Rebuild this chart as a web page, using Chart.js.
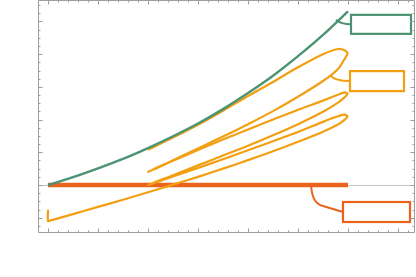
<!DOCTYPE html>
<html>
<head>
<meta charset="utf-8">
<script src="https://cdn.jsdelivr.net/npm/chart.js@4/dist/chart.umd.min.js"></script>
<style>
  body { margin: 0; background: #fff; }
  canvas { display: block; }
</style>
</head>
<body>
<canvas id="chart" width="416" height="277"></canvas>
<script>
// data
const greenX = [0, 0.5, 1, 1.5, 2, 2.5, 3, 3.5, 4, 4.5, 5, 5.5, 6];
const greenY = [0, 0.24, 0.51, 0.8, 1.13, 1.49, 1.88, 2.32, 2.81, 3.34, 3.94, 4.59, 5.31];

// orange curve, traced in drawing order (it folds back on itself)
const orangeX = [0, 0, 0.04,
  0.5, 1, 1.5, 2, 2.5, 3, 3.5, 4, 4.5, 5, 5.5, 5.8, 5.93, 5.99,
  5.93, 5.8, 5.5, 5, 4.5, 4, 3.5, 3, 2.5, 2,
  2.5, 3, 3.5, 4, 4.5, 5, 5.5, 5.8, 5.93, 5.99,
  5.93, 5.8, 5.5, 5, 4.5, 4, 3.5, 3, 2.5, 2,
  2.5, 3, 3.5, 4, 4.5, 5, 5.5, 5.8, 5.93, 5.99,
  5.93, 5.8, 5.5, 5, 4.5, 4, 3.5, 3, 2.5, 2];
const orangeY = [-0.76, -1.1, -1.09,
  -0.89, -0.67, -0.45, -0.22, 0.01, 0.25, 0.5, 0.76, 1.03, 1.32, 1.63, 1.85, 1.99, 2.1,
  2.15, 2.1, 1.93, 1.62, 1.34, 1.06, 0.79, 0.52, 0.26, 0,
  0.3, 0.6, 0.9, 1.2, 1.52, 1.86, 2.24, 2.52, 2.68, 2.79,
  2.83, 2.76, 2.58, 2.3, 2.0, 1.7, 1.39, 1.07, 0.74, 0.4,
  0.76, 1.12, 1.48, 1.86, 2.26, 2.7, 3.18, 3.55, 3.85, 4.02,
  4.12, 4.16, 4.0, 3.6, 3.15, 2.72, 2.27, 1.84, 1.45, 1.08];

const redX = [0, 6];
const redY = [0, 0];

const greenColor = '#4b9373';
const orangeColor = '#f29f12';
const redColor = '#e9631c';

const toPoints = (xs, ys) => xs.map((x, i) => ({ x: x, y: ys[i] }));

// callout anchors (data coords) and box sizes
const callouts = [
  { x: 5.76, y: 5.05, color: greenColor, dx: 15, dy: -5, w: 60, h: 19, bend: 'curve' },
  { x: 5.64, y: 3.36, color: orangeColor, dx: 20, dy: -4, w: 54, h: 20, bend: 'curve' },
  { x: 5.26, y: 0, color: redColor, dx: 32, dy: 17, w: 67, h: 20, bend: 'drop' }
];

const framePlugin = {
  id: 'frame',
  beforeDatasetsDraw(chart) {
    const { ctx, chartArea: a, scales } = chart;
    const y0 = Math.round(scales.y.getPixelForValue(0)) + 0.5;
    ctx.save();
    ctx.strokeStyle = '#c4c4c4';
    ctx.lineWidth = 1;
    ctx.beginPath();
    ctx.moveTo(a.left, y0);
    ctx.lineTo(a.right, y0);
    ctx.stroke();
    ctx.restore();
  },
  afterDatasetsDraw(chart) {
    const { ctx, chartArea: a, scales } = chart;
    ctx.save();
    // callouts
    callouts.forEach(c => {
      const px = scales.x.getPixelForValue(c.x);
      const py = scales.y.getPixelForValue(c.y);
      const bx = px + c.dx, by = py + c.dy;
      const my = by + c.h / 2;
      ctx.strokeStyle = c.color;
      ctx.lineWidth = 2;
      ctx.beginPath();
      ctx.moveTo(px, py);
      if (c.bend === 'drop') {
        ctx.bezierCurveTo(px + 1, py + 14, px + 5, py + 19, px + 12, py + 21);
        ctx.lineTo(bx, my);
      } else {
        ctx.quadraticCurveTo(px + 5, my, bx, my);
      }
      ctx.stroke();
      ctx.fillStyle = '#fff';
      ctx.fillRect(bx, by, c.w, c.h);
      ctx.lineWidth = 2.2;
      ctx.strokeRect(bx, by, c.w, c.h);
    });

    // frame with inward ticks
    ctx.strokeStyle = '#9e9e9e';
    ctx.lineWidth = 1;
    const L = a.left + 0.5, R = a.right - 0.5, T = a.top + 0.5, B = a.bottom + 0.5;
    ctx.beginPath();
    ctx.rect(L, T, R - L, B - T);
    ctx.stroke();

    ctx.beginPath();
    for (let i = -1; i <= 37; i++) {
      const v = i * 0.2;
      const x = Math.round(scales.x.getPixelForValue(v)) + 0.5;
      if (x <= L || x >= R) continue;
      const len = (i % 5 === 0) ? 4 : 2;
      ctx.moveTo(x, B); ctx.lineTo(x, B - len);
      ctx.moveTo(x, T); ctx.lineTo(x, T + len);
    }
    for (let i = -5; i <= 22; i++) {
      const v = i * 0.25;
      const y = Math.round(scales.y.getPixelForValue(v)) + 0.5;
      if (y <= T || y >= B) continue;
      const len = (i % 4 === 0) ? 4 : 2;
      ctx.moveTo(L, y); ctx.lineTo(L + len, y);
      ctx.moveTo(R, y); ctx.lineTo(R - len, y);
    }
    ctx.stroke();
    ctx.restore();
  }
};

new Chart(document.getElementById('chart'), {
  type: 'scatter',
  data: {
    datasets: [
      { data: toPoints(greenX, greenY), borderColor: greenColor, borderWidth: 2.4, tension: 0.3 },
      { data: toPoints(orangeX, orangeY), borderColor: orangeColor, borderWidth: 2.2, tension: 0.3 },
      { data: toPoints(redX, redY), borderColor: redColor, borderWidth: 4.5 }
    ]
  },
  options: {
    responsive: false,
    animation: false,
    devicePixelRatio: 1,
    layout: { padding: { left: 38, right: 1, top: 0, bottom: 45 } },
    datasets: {
      scatter: { showLine: true, pointRadius: 0, fill: false, borderCapStyle: 'butt', borderJoinStyle: 'round' }
    },
    plugins: { legend: { display: false }, tooltip: { enabled: false } },
    scales: {
      x: { type: 'linear', min: -0.2, max: 7.34, display: false },
      y: { type: 'linear', min: -1.437, max: 5.657, display: false }
    }
  },
  plugins: [framePlugin]
});
</script>
</body>
</html>
